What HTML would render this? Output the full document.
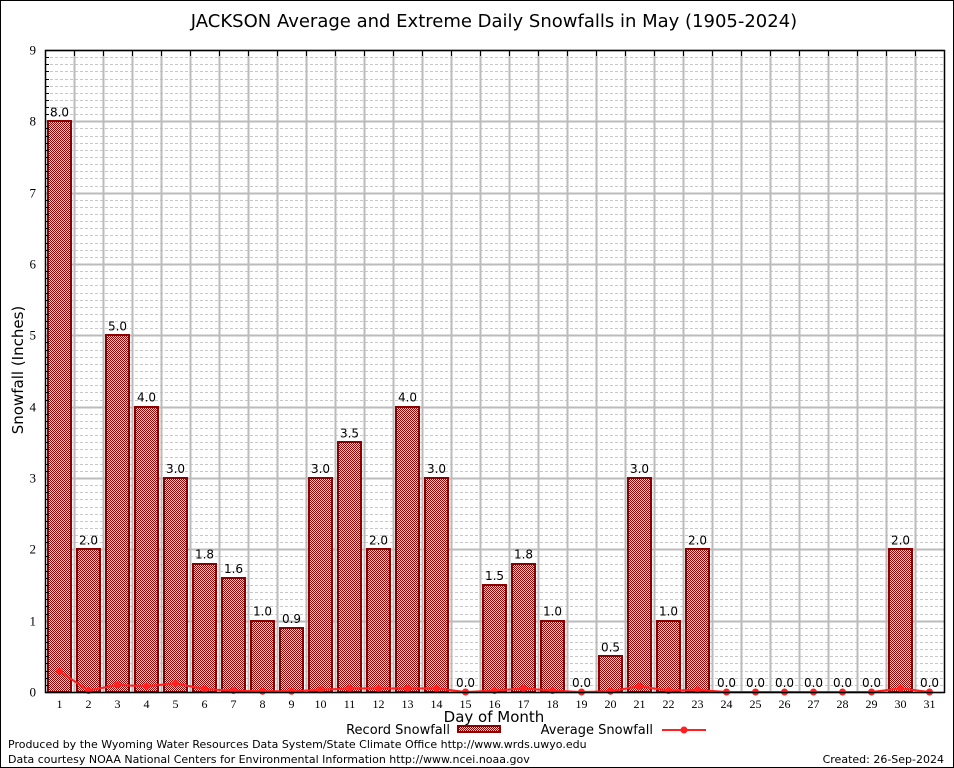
<!DOCTYPE html>
<html><head><meta charset="utf-8">
<style>
body{margin:0;background:#fff;}
svg{display:block;}
.sans{font-family:"DejaVu Sans","Liberation Sans",sans-serif;}
.serif{font-family:"Liberation Serif","DejaVu Serif",serif;}
</style></head>
<body>
<svg id="chart" width="954" height="768" viewBox="0 0 954 768" xmlns="http://www.w3.org/2000/svg">
<defs>
<pattern id="chk" width="2" height="2" patternUnits="userSpaceOnUse" shape-rendering="crispEdges">
<rect width="2" height="2" fill="#f4e0e0"/><rect width="1" height="1" fill="#a00000"/><rect x="1" y="1" width="1" height="1" fill="#a00000"/>
</pattern>
</defs>
<rect x="0.5" y="0.5" width="953" height="767" fill="#fff" stroke="#000"/>
<text x="494" y="27" text-anchor="middle" class="sans" font-size="18">JACKSON Average and Extreme Daily Snowfalls in May (1905-2024)</text>
<g id="grid"></g>
<g id="bars"></g>
<g id="avg"></g>
<g id="axes"></g>
<text transform="translate(23,370) rotate(-90)" text-anchor="middle" class="sans" font-size="15">Snowfall (Inches)</text>
<text x="494" y="722" text-anchor="middle" class="sans" font-size="15">Day of Month</text>
<g>
<text x="450" y="734" text-anchor="end" class="sans" font-size="13">Record Snowfall</text>
<rect x="458" y="726" width="42" height="6" fill="url(#chk)" stroke="#8b0000" stroke-width="2"/>
<text x="653" y="734" text-anchor="end" class="sans" font-size="13">Average Snowfall</text>
<line x1="662" y1="730" x2="706" y2="730" stroke="#ff2020" stroke-width="2"/>
<circle cx="684" cy="730" r="3.5" fill="#ff2020"/>
</g>
<text x="8" y="748" class="sans" font-size="11">Produced by the Wyoming Water Resources Data System/State Climate Office http://www.wrds.uwyo.edu</text>
<text x="8" y="763" class="sans" font-size="11">Data courtesy NOAA National Centers for Environmental Information http://www.ncei.noaa.gov</text>
<text x="944" y="763" text-anchor="end" class="sans" font-size="11">Created: 26-Sep-2024</text>
</svg>
<script>
const days = [1,2,3,4,5,6,7,8,9,10,11,12,13,14,15,16,17,18,19,20,21,22,23,24,25,26,27,28,29,30,31];
const recordValues = [8.0,2.0,5.0,4.0,3.0,1.8,1.6,1.0,0.9,3.0,3.5,2.0,4.0,3.0,0.0,1.5,1.8,1.0,0.0,0.5,3.0,1.0,2.0,0.0,0.0,0.0,0.0,0.0,0.0,2.0,0.0];
const averageValues = [0.29,0.02,0.1,0.08,0.12,0.04,0.02,0.01,0.01,0.03,0.05,0.05,0.05,0.05,0.0,0.02,0.05,0.02,0.0,0.01,0.08,0.02,0.03,0.0,0.0,0.0,0.0,0.0,0.0,0.05,0.0];
const yTicks = [0,1,2,3,4,5,6,7,8,9];

const NS="http://www.w3.org/2000/svg";
const L=45,R=944,T=50,B=692,yMax=9;
const step=(R-L)/days.length;
function xC(i){return L+step*(i+0.5);}
function y(v){return B-(v/yMax)*(B-T);}
function mk(tag,attrs,parent){const e=document.createElementNS(NS,tag);for(const k in attrs)e.setAttribute(k,attrs[k]);parent.appendChild(e);return e;}
const grid=document.getElementById('grid'),bars=document.getElementById('bars'),avg=document.getElementById('avg'),axes=document.getElementById('axes');

for(let m=1;m<yMax*10;m++){if(m%10===0)continue;const yy=Math.round(y(m/10))+0.5;
 const ln=mk('line',{x1:L,x2:R,y1:yy,y2:yy,stroke:'#c8c8c8','stroke-width':1,'stroke-dasharray':'3,2'},grid);
 
 
 const tk=mk('line',{x1:L,x2:L+4,y1:yy,y2:yy,stroke:'#000'},axes);
 
 
}
yTicks.forEach(v=>{const yy=Math.round(y(v))+0.5;
 const ln=mk('line',{x1:L,x2:R,y1:yy,y2:yy,stroke:'#bbb','stroke-width':2},grid);
 
 
 const t=mk('text',{x:L-9,y:yy+4,'text-anchor':'end','font-size':13,class:'serif'},axes);t.textContent=v;
 
 
});
for(let i=1;i<days.length;i++){const xx=Math.round(L+step*i)+0.5;
 const ln=mk('line',{x1:xx,x2:xx,y1:T,y2:B,stroke:'#bbb','stroke-width':2},grid);
 
 
 const tk=mk('line',{x1:xx,x2:xx,y1:T,y2:T+6,stroke:'#000'},axes);
 
 
}
days.forEach((d,i)=>{const v=recordValues[i];const bw=23;
 if(v>0){const r=mk('rect',{x:Math.round(xC(i)-bw/2),y:Math.round(y(v)),width:bw,height:B-Math.round(y(v)),fill:'url(#chk)',stroke:'#8b0000','stroke-width':2},bars);
  
  }
 const t=mk('text',{x:xC(i),y:y(v)-5,'text-anchor':'middle','font-size':12,class:'sans'},bars);t.textContent=v.toFixed(1);
 
 
 const xl=mk('text',{x:xC(i),y:B+16,'text-anchor':'middle','font-size':12,class:'serif'},axes);xl.textContent=d;
 
 
});
const pl=mk('polyline',{points:averageValues.map((v,i)=>xC(i)+','+y(v)).join(' '),fill:'none',stroke:'#ff2020','stroke-width':2},avg);


averageValues.forEach((v,i)=>{const c=mk('circle',{cx:xC(i),cy:y(v),r:3.5,fill:'#ff2020'},avg);
 
 });
const fr=mk('rect',{x:L+0.5,y:T+0.5,width:R-L,height:B-T,fill:'none',stroke:'#000','stroke-width':1.5},axes);


</script>
</body></html>
